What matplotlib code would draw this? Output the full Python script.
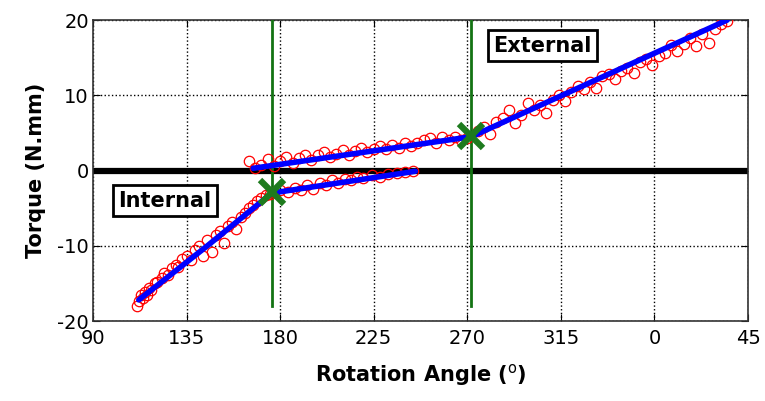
import matplotlib
matplotlib.use("Agg")
import matplotlib.pyplot as plt

plt.rcParams["axes.unicode_minus"] = False

# measured points, lower (internal) branch
low_x = [111, 112, 113, 114, 115, 116, 117, 118, 120, 121, 123, 124, 126, 128, 130, 131, 133, 135,
         137, 139, 141, 143, 145, 147, 149, 151, 153, 155, 157, 159, 161, 163, 165, 167, 169, 171,
         173, 175, 177,
         180, 184, 187, 190, 193, 196, 199, 202, 205, 208, 211, 214, 217, 220, 224, 228, 232, 236,
         240, 244]
low_y = [-18.0, -17.3, -16.6, -17.0, -16.2, -16.5, -15.6, -15.9, -15.0, -14.8, -14.3, -13.6, -13.9,
         -13.0, -12.5, -12.8, -11.8, -11.3, -11.9, -10.6, -10.0, -11.4, -9.2, -10.8, -8.6, -8.0,
         -9.6, -7.4, -6.9, -7.8, -6.2, -5.7, -5.0, -4.6, -4.0, -3.6, -3.3, -3.1, -2.9,
         -2.6, -2.9, -2.3, -2.6, -1.9, -2.4, -1.6, -1.9, -1.3, -1.7, -1.1, -1.3, -0.8, -1.0, -0.6,
         -0.8, -0.4, -0.3, -0.2, 0.0]

# measured points, upper (external) branch
up_x = [165, 168, 171, 174, 177, 180, 183, 186, 189, 192, 195, 198, 201, 204, 207, 210, 213, 216,
        219, 222, 225, 228, 231, 234, 237, 240, 243, 246, 249, 252, 255, 258, 261, 264, 267, 270,
        275, 278, 281, 284, 287, 290, 293, 296, 299, 302, 305, 308, 311, 314, 317, 320, 323, 326,
        329, 332, 335, 338, 341, 344, 347, 350, 353, 356, 359, 362, 365, 368, 371, 374, 377, 380,
        383, 386, 389, 392, 395]
up_y = [1.2, 0.3, 0.8, 1.5, 0.6, 1.3, 1.8, 1.0, 1.6, 2.0, 1.4, 2.0, 2.4, 1.8, 2.2, 2.7, 2.0, 2.6,
        3.0, 2.4, 2.9, 3.2, 2.8, 3.4, 3.0, 3.7, 3.3, 3.6, 4.0, 4.3, 3.7, 4.5, 4.1, 4.4, 4.0, 4.3,
        5.2, 5.8, 4.8, 6.5, 7.0, 8.1, 6.3, 7.4, 9.0, 8.0, 8.7, 7.6, 9.4, 10.0, 9.3, 10.5, 11.3,
        10.8, 11.8, 11.0, 12.5, 12.8, 12.2, 13.2, 13.6, 13.0, 14.4, 14.8, 14.0, 15.2, 15.6, 16.7,
        15.9, 16.8, 17.6, 16.5, 18.2, 17.0, 18.8, 19.5, 19.9]

# bilinear fits
low_fit_x = [112, 145, 176, 245]
low_fit_y = [-17.2, -10.0, -3.0, -0.1]
up_fit_x = [167, 272, 395]
up_fit_y = [0.3, 4.5, 20.0]

# transition points
trans_x = [176, 272]
trans_y = [-2.9, 4.6]

xticks = [90, 135, 180, 225, 270, 315, 360, 405]
xlabels = ["90", "135", "180", "225", "270", "315", "0", "45"]
yticks = [-20, -10, 0, 10, 20]

fig = plt.figure(figsize=(7.65, 4.01), dpi=100)
ax = fig.add_axes([0.1216, 0.1995, 0.8562, 0.7505])

ax.axhline(0, color="black", lw=4.5, zorder=2)
for tx in trans_x:
    ax.plot([tx, tx], [-18, 20], color="#137313", lw=2, zorder=3)

ax.plot(low_x, low_y, "o", mfc="none", mec="red", ms=7.5, mew=0.9, zorder=4)
ax.plot(up_x, up_y, "o", mfc="none", mec="red", ms=7.5, mew=0.9, zorder=4)
ax.plot(low_fit_x, low_fit_y, color="blue", lw=4, zorder=5, solid_capstyle="round")
ax.plot(up_fit_x, up_fit_y, color="blue", lw=4, zorder=5, solid_capstyle="round")
ax.plot(trans_x, trans_y, "x", color="#1e7b1e", ms=17, mew=4.5, zorder=6)

box = dict(boxstyle="square,pad=0.25", fc="white", ec="black", lw=2)
ax.text(124.5, -4.0, "Internal", fontsize=15, fontweight="bold", ha="center", va="center", bbox=box, zorder=7)
ax.text(306, 16.6, "External", fontsize=15, fontweight="bold", ha="center", va="center", bbox=box, zorder=7)

ax.set_xlim(90, 405)
ax.set_ylim(-20, 20)
ax.set_xticks(xticks)
ax.set_xticklabels(xlabels)
ax.set_yticks(yticks)
ax.grid(True, color="black", linestyle=":", lw=1)
ax.tick_params(direction="in", top=True, right=True, labelsize=14, length=5)
ax.tick_params(axis="x", pad=6)
ax.tick_params(axis="y", pad=3)
for s in ax.spines.values():
    s.set_color("#333333")
    s.set_linewidth(1.2)

ax.set_xlabel("Rotation Angle ($^{\\mathrm{o}}$)", fontsize=15, fontweight="bold", labelpad=10)
ax.set_ylabel("Torque (N.mm)", fontsize=15, fontweight="bold", labelpad=8)

fig.savefig("out.png", dpi=100)
